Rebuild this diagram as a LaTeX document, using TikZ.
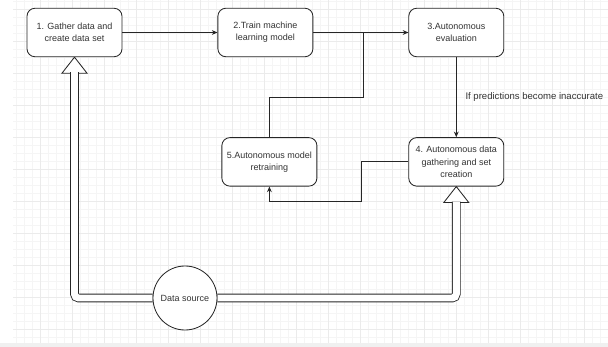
\documentclass[tikz,border=0pt]{standalone}
\usepackage{fontspec}
\setmainfont{Liberation Sans}
\usetikzlibrary{arrows.meta,positioning}
\pgfdeclarelayer{gridlayer}
\pgfdeclarelayer{backlayer}
\pgfsetlayers{gridlayer,backlayer,main}
\tikzstyle{stepbox}=[rectangle, rounded corners=0.2cm, draw=black!85, line width=0.6pt, fill=white, minimum width=2.375cm, minimum height=1.2125cm, align=center, inner sep=1pt]
\tikzstyle{srcnode}=[circle, draw=black!85, line width=0.6pt, fill=white, minimum size=1.6cm, inner sep=0pt]
\tikzstyle{flow}=[-{Stealth[length=4pt,width=3.4pt]}, line width=0.6pt, draw=black!85]
\tikzstyle{feed}=[draw=black!85, double=white, double distance=4.96pt, line width=0.6pt, rounded corners=0.1cm, shorten >=10.7pt]
\tikzstyle{feedhead}=[draw=black!85, fill=white, line width=0.6pt, line join=miter]

\begin{document}
\begin{tikzpicture}
[x=0.025cm, y=-0.025cm, font=\fontsize{6.4pt}{8.6pt}\selectfont, text=black!80]
 \useasboundingbox (0,0) rectangle (608,347);
 % background grid
 \begin{pgfonlayer}{gridlayer}
 \foreach \gx in {16,24,...,608} \draw[black!4, line width=0.4pt] (\gx,0) -- (\gx,343);
 \foreach \gy in {1,9,...,343} \draw[black!4, line width=0.4pt] (13,\gy) -- (608,\gy);
 \foreach \gx in {40,72,...,608} \draw[black!8, line width=0.5pt] (\gx,0) -- (\gx,343);
 \foreach \gy in {9,41,...,343} \draw[black!8, line width=0.5pt] (13,\gy) -- (608,\gy);
 \fill[black!6] (0,343) rectangle (608,347);
 \end{pgfonlayer}

 \node[stepbox] (b1) at (74.5,32.5) {1. Gather data and\\create data set};
 \node[stepbox] (b2) [right=2.375cm of b1] {2.Train machine\\learning model};
 \node[stepbox] (b3) [right=2.375cm of b2] {3.Autonomous\\evaluation};
 \node[stepbox] (b4) [below=2cm of b3] {4. Autonomous data\\gathering and set\\creation};
 \node[stepbox] (b5) [left=2.275cm of b4] {5.Autonomous model\\retraining};
 \node[srcnode] (src) at (185,298) {Data source};
 \coordinate (mrg) at (363,97);
 \coordinate (ret) at (361,201);

 \path[flow]
   (b1) edge node {} (b2)
   (b2) edge node {} (b3)
   (b3) edge node[right=0.22cm, inner sep=0pt, font=\fontsize{6.8pt}{8.6pt}\selectfont] {If predictions become inaccurate} (b4);
 \draw[line width=0.6pt, draw=black!85] (b5.north) |- (mrg) -- (mrg |- b2.east);
 \draw[flow] (b4.west) -| (ret) -| (b5.south);

 % hollow feed arrows from the data source
 \begin{pgfonlayer}{backlayer}
 \draw[feedhead] (b1.south) -- ++(12.5,16) -- ++(-25,0) -- cycle;
 \draw[feedhead] (b4.south) -- ++(12.5,16) -- ++(-25,0) -- cycle;
 \draw[feed] (src.west) -| (b1.south);
 \draw[feed] (src.east) -| (b4.south);
 \end{pgfonlayer}
\end{tikzpicture}
\end{document}
